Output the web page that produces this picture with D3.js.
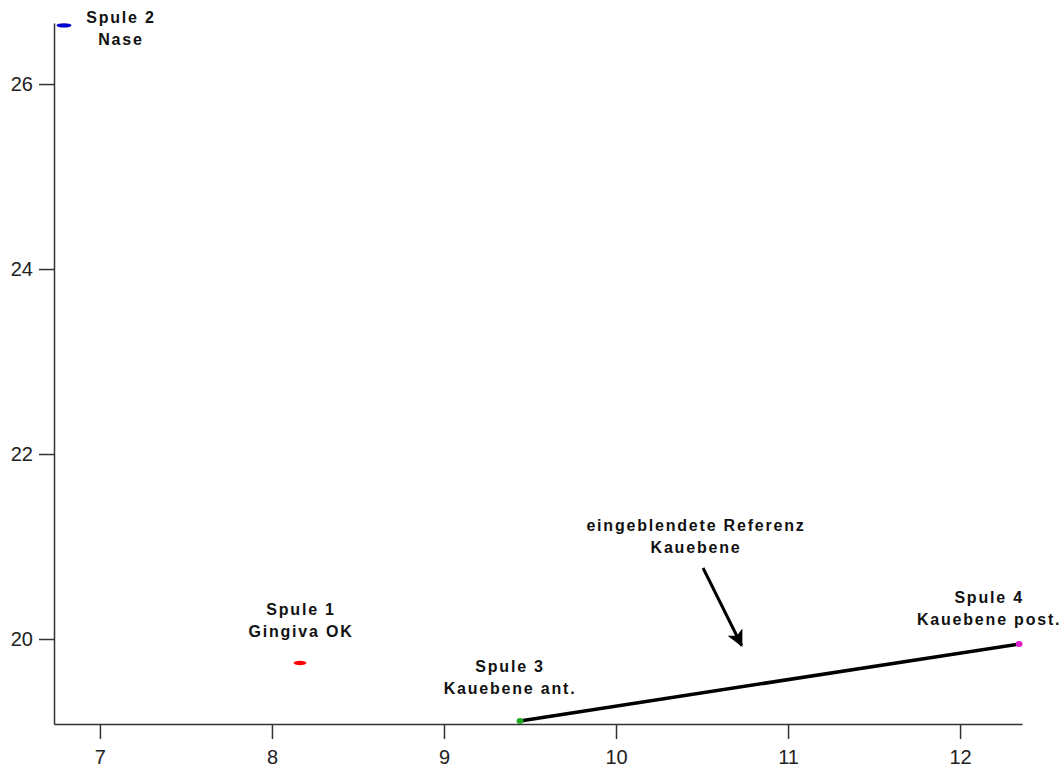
<!DOCTYPE html>
<html>
<head>
<meta charset="utf-8">
<script src="https://cdn.jsdelivr.net/npm/d3@7"></script>
<style>
  html, body { margin: 0; padding: 0; background: #fff; }
  svg { display: block; }
</style>
</head>
<body>
<svg id="chart" width="1064" height="769"></svg>
<script>
// ---- data ----
const xDomain = [6.733, 12.36];
const yDomain = [19.081, 26.66];
const xTicks = [7, 8, 9, 10, 11, 12];
const yTicks = [20, 22, 24, 26];

const coilNames = ["Spule 1", "Spule 2", "Spule 3", "Spule 4"];
const coilX = [8.163, 6.791, 9.442, 12.343];
const coilY = [19.74, 26.634, 19.114, 19.946];
const coilColors = ["#ff0000", "#0000cc", "#22aa22", "#dd22cc"];

const labelLine1 = ["Spule 1", "Spule 2", "Spule 3", "Spule 4", "eingeblendete Referenz"];
const labelLine2 = ["Gingiva OK", "Nase", "Kauebene ant.", "Kauebene post.", "Kauebene"];
const labelX = [8.169, 7.122, 9.384, 12.169, 10.465];
const labelY = [20.259, 26.659, 19.643, 20.389, 21.168];

// reference line Kauebene: from Spule 3 to Spule 4
const refLineX = [9.442, 12.343];
const refLineY = [19.114, 19.946];

// arrow
const arrowX = [10.506, 10.73];
const arrowY = [20.768, 19.93];

// ---- layout ----
const W = 1064, H = 769;
const margin = { top: 23, right: 42, bottom: 45, left: 54 };
const svg = d3.select("#chart");

const x = d3.scaleLinear().domain(xDomain).range([margin.left, W - margin.right]);
const y = d3.scaleLinear().domain(yDomain).range([H - margin.bottom, margin.top]);

const axisColor = "#333";

// x axis
const gx = svg.append("g")
  .attr("transform", `translate(0,${H - margin.bottom})`)
  .call(d3.axisBottom(x).tickValues(xTicks).tickSize(15).tickPadding(11).tickSizeOuter(0).tickFormat(d3.format("d")));
// y axis
const gy = svg.append("g")
  .attr("transform", `translate(${margin.left},0)`)
  .call(d3.axisLeft(y).tickValues(yTicks).tickSize(15).tickPadding(6).tickSizeOuter(0).tickFormat(d3.format("d")));

[gx, gy].forEach(g => {
  g.select(".domain").attr("stroke", axisColor).attr("stroke-width", 1.5);
  g.selectAll(".tick line").attr("stroke", axisColor).attr("stroke-width", 1.5);
  g.selectAll(".tick text")
    .attr("fill", "#222")
    .style("font-family", "'Liberation Sans', Arial, sans-serif")
    .style("font-size", "20px");
});

// reference line
svg.append("line")
  .attr("x1", x(refLineX[0])).attr("y1", y(refLineY[0]))
  .attr("x2", x(refLineX[1])).attr("y2", y(refLineY[1]))
  .attr("stroke", "#000").attr("stroke-width", 3.5).attr("stroke-linecap", "round");

// arrow
const defs = svg.append("defs");
defs.append("marker")
  .attr("id", "arrowhead")
  .attr("viewBox", "0 0 10 10")
  .attr("refX", 9).attr("refY", 5)
  .attr("markerWidth", 7).attr("markerHeight", 5.5)
  .attr("markerUnits", "strokeWidth")
  .attr("orient", "auto")
  .append("path")
  .attr("d", "M0,0 L10,5 L0,10 L2.5,5 Z")
  .attr("fill", "#000");

svg.append("line")
  .attr("x1", x(arrowX[0])).attr("y1", y(arrowY[0]))
  .attr("x2", x(arrowX[1])).attr("y2", y(arrowY[1]))
  .attr("stroke", "#000").attr("stroke-width", 3)
  .attr("marker-end", "url(#arrowhead)");

// coil markers
const coils = coilNames.map((n, i) => ({ name: n, x: coilX[i], y: coilY[i], color: coilColors[i] }));
svg.selectAll("ellipse.coil")
  .data(coils)
  .join("ellipse")
  .attr("class", "coil")
  .attr("cx", d => x(d.x))
  .attr("cy", d => y(d.y))
  .attr("rx", (d, i) => i === 1 ? 7.5 : (i === 0 ? 6.5 : 3.5))
  .attr("ry", (d, i) => i <= 1 ? 2.2 : 3)
  .attr("fill", d => d.color);

// labels
const labels = labelLine1.map((t, i) => ({ l1: t, l2: labelLine2[i], x: labelX[i], y: labelY[i] }));
const lg = svg.selectAll("text.lbl")
  .data(labels)
  .join("text")
  .attr("class", "lbl")
  .attr("text-anchor", "middle")
  .attr("fill", "#111")
  .style("font-family", "'Liberation Sans', Arial, sans-serif")
  .style("font-weight", "bold")
  .style("font-size", "16px")
  .style("letter-spacing", "1.8px");
lg.append("tspan")
  .attr("x", d => x(d.x))
  .attr("y", d => y(d.y))
  .text(d => d.l1);
lg.append("tspan")
  .attr("x", d => x(d.x))
  .attr("dy", 22)
  .text(d => d.l2);
</script>
</body>
</html>
